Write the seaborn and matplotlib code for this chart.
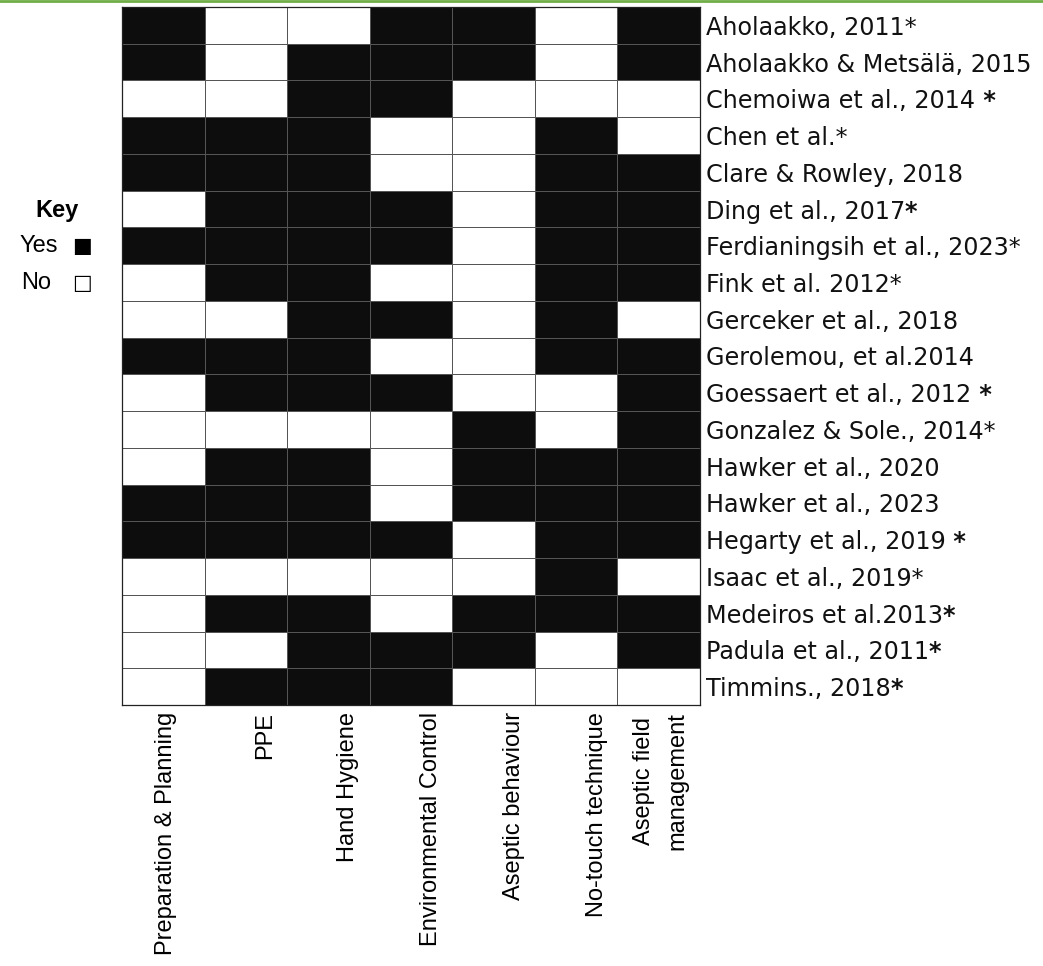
import numpy as np
import pandas as pd
import seaborn as sns
import matplotlib.pyplot as plt
from matplotlib.colors import ListedColormap
from matplotlib.lines import Line2D
import matplotlib.transforms as mtransforms

studies = [
    "Aholaakko, 2011*", "Aholaakko & Metsälä, 2015", "Chemoiwa et al., 2014",
    "Chen et al.*", "Clare & Rowley, 2018", "Ding et al., 2017",
    "Ferdianingsih et al., 2023*", "Fink et al. 2012*", "Gerceker et al., 2018",
    "Gerolemou, et al.2014", "Goessaert et al., 2012", "Gonzalez & Sole., 2014*",
    "Hawker et al., 2020", "Hawker et al., 2023", "Hegarty et al., 2019",
    "Isaac et al., 2019*", "Medeiros et al.2013", "Padula et al., 2011",
    "Timmins., 2018",
]
bold_star = ["", "", " *", "", "", "*", "", "", "", "", " *", "", "", "", " *",
             "", "*", "*", "*"]

categories = [
    "Preparation & Planning", "PPE", "Hand Hygiene", "Environmental Control",
    "Aseptic behaviour", "No-touch technique", "Aseptic field\nmanagement",
]

prep     = [1, 1, 0, 1, 1, 0, 1, 0, 0, 1, 0, 0, 0, 1, 1, 0, 0, 0, 0]
ppe      = [0, 0, 0, 1, 1, 1, 1, 1, 0, 1, 1, 0, 1, 1, 1, 0, 1, 0, 1]
hand     = [0, 1, 1, 1, 1, 1, 1, 1, 1, 1, 1, 0, 1, 1, 1, 0, 1, 1, 1]
env      = [1, 1, 1, 0, 0, 1, 1, 0, 1, 0, 1, 0, 0, 0, 1, 0, 0, 1, 1]
behav    = [1, 1, 0, 0, 0, 0, 0, 0, 0, 0, 0, 1, 1, 1, 0, 0, 1, 1, 0]
notouch  = [0, 0, 0, 1, 1, 1, 1, 1, 1, 1, 0, 0, 1, 1, 1, 1, 1, 0, 0]
field    = [1, 1, 0, 0, 1, 1, 1, 1, 0, 1, 1, 1, 1, 1, 1, 0, 1, 1, 0]

df = pd.DataFrame(
    np.array([prep, ppe, hand, env, behav, notouch, field]).T,
    index=studies, columns=categories,
)

W, H = 1043, 966
fig = plt.figure(figsize=(W / 100, H / 100), dpi=100)
ax = fig.add_axes([122 / W, 1 - 705 / H, (700 - 122) / W, (705 - 7) / H])

sns.heatmap(df, ax=ax, cmap=ListedColormap(["white", "#0d0d0d"]), cbar=False,
            linewidths=0.6, linecolor="#555555", vmin=0, vmax=1)

for s in ax.spines.values():
    s.set_visible(True)
    s.set_color("#222222")
    s.set_linewidth(0.9)

row_font = "DejaVu Sans"
fs_row = 17.2
ax.yaxis.tick_right()
ax.set_yticklabels(studies, rotation=0, fontsize=fs_row, family=row_font,
                   color="#111111")
ax.tick_params(axis="y", length=0, pad=4)

ax.set_xticklabels(categories, rotation=90, fontsize=17, family="Liberation Sans",
                   va="top", ha="center", linespacing=1.7)
ax.tick_params(axis="x", length=0, pad=5)
ax.xaxis.tick_bottom()
ax.set_xlabel("")
ax.set_ylabel("")

offsets = [3, 19, 20, 20, 20, 21, 2]
for lab, dx in zip(ax.get_xticklabels(), offsets):
    lab.set_transform(lab.get_transform() +
                      mtransforms.ScaledTranslation(dx / 100, 0, fig.dpi_scale_trans))

for lab, star in zip(ax.get_yticklabels(), bold_star):
    if star:
        ax.annotate(star, xy=(1, 0), xycoords=lab, ha="left", va="bottom",
                    fontsize=fs_row, family=row_font, fontweight="bold",
                    color="#111111", annotation_clip=False)

# Key
fig.text(57 / W, 1 - 210 / H, "Key", ha="center", va="center", fontsize=17,
         fontweight="bold", family="Liberation Sans")
fig.text(20 / W, 1 - 246 / H, "Yes", ha="left", va="center", fontsize=17,
         family="Liberation Sans")
fig.text(21 / W, 1 - 283 / H, "No", ha="left", va="center", fontsize=17,
         family="Liberation Sans")
fig.text(82 / W, 1 - 246 / H, "\u25A0", ha="center", va="center", fontsize=15,
         family="DejaVu Sans")
fig.text(82 / W, 1 - 283 / H, "\u25A1", ha="center", va="center", fontsize=15,
         family="DejaVu Sans")

fig.add_artist(Line2D([0, 1], [1 - 1 / H, 1 - 1 / H], transform=fig.transFigure,
                      color="#70ad47", linewidth=2))

fig.savefig("out.png", dpi=100)
